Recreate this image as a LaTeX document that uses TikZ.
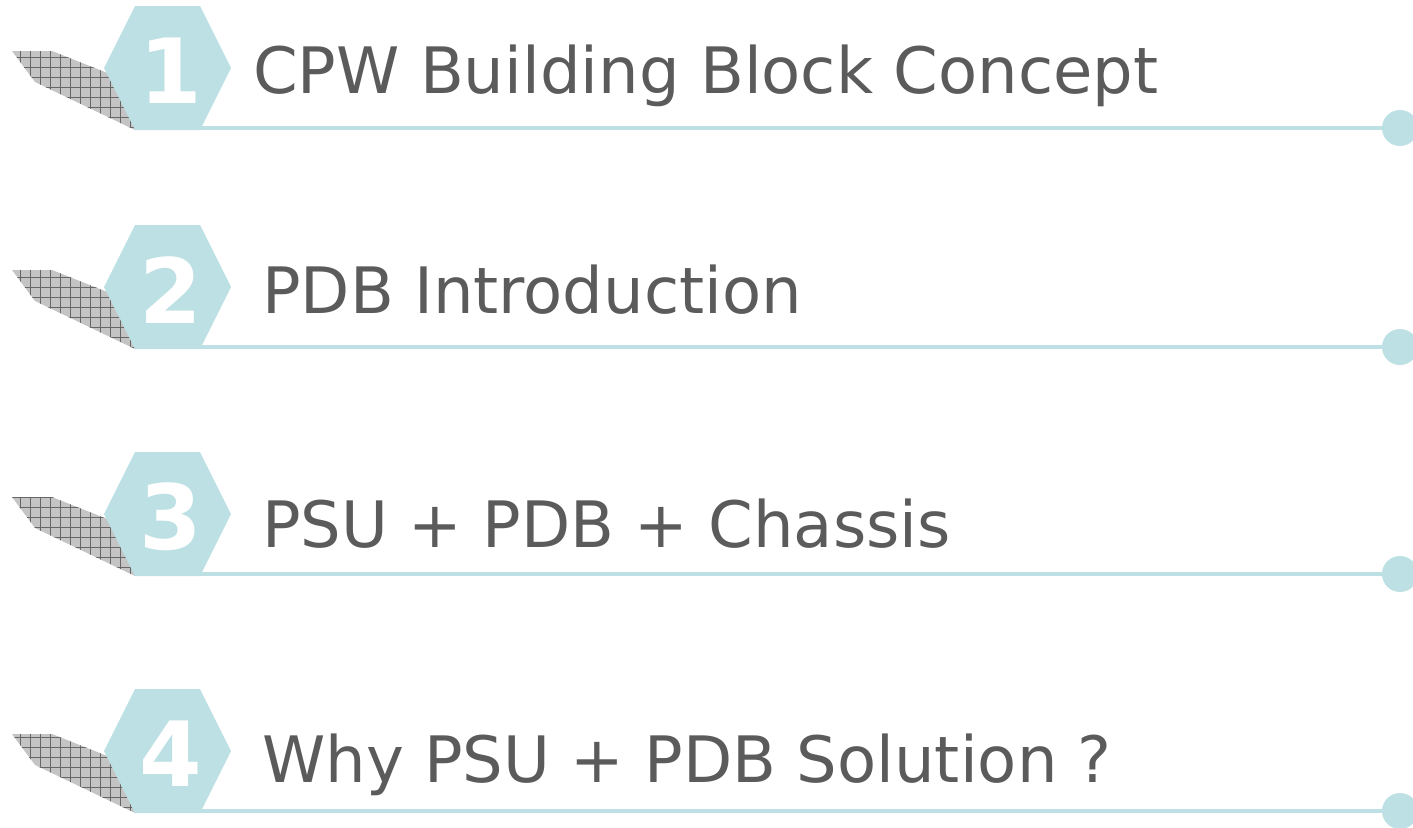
\documentclass[tikz,border=0pt]{standalone}
\usepackage{fontspec}
\setmainfont{DejaVu Sans}
\usetikzlibrary{patterns.meta}
\definecolor{tocline}{HTML}{BCE0E3}
\definecolor{toctext}{HTML}{5B5B5B}
\definecolor{tocshadow}{HTML}{C4C4C4}

\begin{document}
\begin{tikzpicture}[x=1pt, y=-1pt,
  numtext/.style={font=\bfseries\fontsize{90}{90}\selectfont, text=white},
  titletext/.style={anchor=base west, inner sep=0pt, text=toctext, font=\fontsize{64}{64}\selectfont},
  enddot/.style={circle, fill=tocline, minimum size=36pt, inner sep=0pt}]
  \useasboundingbox (0,0) rectangle (1413,827);
  \foreach \n/\cy/\tx/\ty/\t in {1/68/253/93/CPW Building Block Concept,
                                  2/287/262/313/PDB Introduction,
                                  3/514/262/547/PSU + PDB + Chassis,
                                  4/751/262/782/Why PSU + PDB Solution ?} {
    % shadow
    \fill[tocshadow] (12,\cy-17) -- (52,\cy-17) -- (125,\cy+12) -- (135,\cy+62) -- (35,\cy+14) -- cycle;
    \fill[pattern={Hatch[angle=0, distance=10pt, line width=0.5pt]}, pattern color=gray!80!black]
      (12,\cy-17) -- (52,\cy-17) -- (125,\cy+12) -- (135,\cy+62) -- (35,\cy+14) -- cycle;
    % hexagon
    \fill[tocline] (135,\cy-62) -- (200,\cy-62) -- (231,\cy) -- (200,\cy+62) -- (135,\cy+62) -- (104,\cy) -- cycle;
    \node[numtext] (num\n) at (171,\cy+3) {\n};
    \node[titletext] (title\n) at (\tx,\ty) {\t};
    \coordinate (start\n) at (200,\cy+60);
    \node[enddot] (dot\n) at (1400,\cy+60) {};
    \draw[tocline, line width=4pt] (start\n) -- (dot\n);
  }
\end{tikzpicture}
\end{document}
